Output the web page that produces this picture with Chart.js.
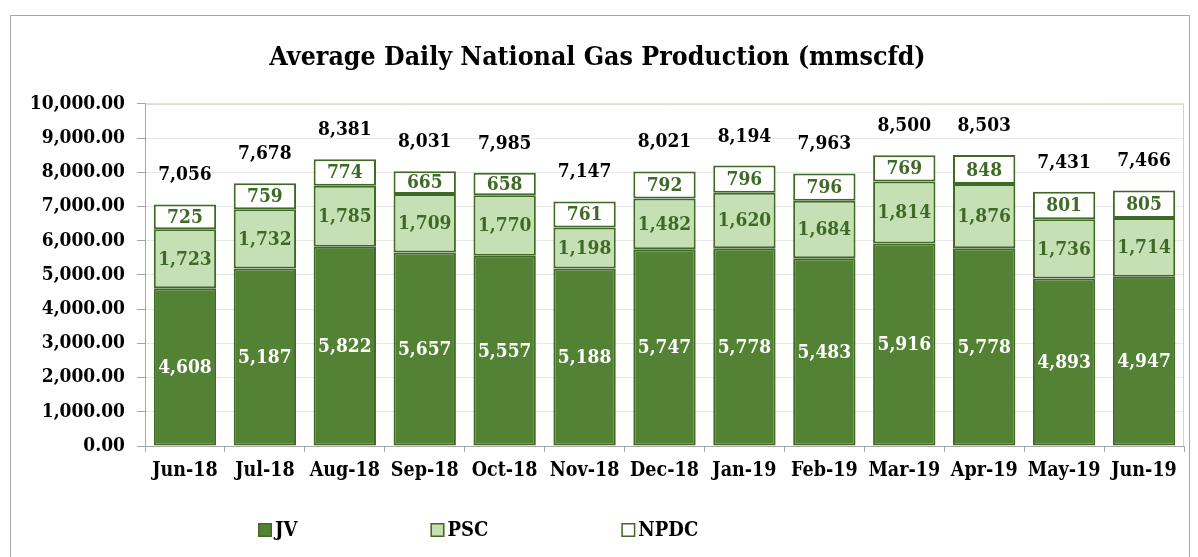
<!DOCTYPE html>
<html>
<head>
<meta charset="utf-8">
<script src="https://cdn.jsdelivr.net/npm/chart.js@4/dist/chart.umd.min.js"></script>
<style>
  body { margin: 0; background: #fff; }
  #frame {
    position: absolute; left: 10px; top: 15px;
    width: 1178px; height: 560px;
    border: 1px solid #a6a6a6;
  }
  canvas { display: block; }
</style>
</head>
<body>
<div id="frame"><canvas id="gas" width="1178" height="541"></canvas></div>
<script>
// ---- data ----
const months = ['Jun-18', 'Jul-18', 'Aug-18', 'Sep-18', 'Oct-18', 'Nov-18', 'Dec-18',
                'Jan-19', 'Feb-19', 'Mar-19', 'Apr-19', 'May-19', 'Jun-19'];
const jv   = [4608, 5187, 5822, 5657, 5557, 5188, 5747, 5778, 5483, 5916, 5778, 4893, 4947];
const psc  = [1723, 1732, 1785, 1709, 1770, 1198, 1482, 1620, 1684, 1814, 1876, 1736, 1714];
const npdc = [725, 759, 774, 665, 658, 761, 792, 796, 796, 769, 848, 801, 805];
const totals = [7056, 7678, 8381, 8031, 7985, 7147, 8021, 8194, 7963, 8500, 8503, 7431, 7466];

const FONT = '"DejaVu Serif Condensed", "DejaVu Serif", serif';
const EDGE = '#3e6a25';
const fmt = v => v.toLocaleString('en-US');

// values inside each segment + totals above the stack
const labelPlugin = {
  id: 'segLabels',
  afterDatasetsDraw(chart) {
    const ctx = chart.ctx;
    ctx.save();
    ctx.textAlign = 'center';
    ctx.textBaseline = 'middle';
    ctx.font = 'bold 19px ' + FONT;
    chart.data.datasets.forEach((ds, i) => {
      const meta = chart.getDatasetMeta(i);
      ctx.fillStyle = i === 0 ? '#ffffff' : EDGE;
      meta.data.forEach((bar, j) => {
        ctx.fillText(fmt(ds.data[j]), bar.x, (bar.y + bar.base) / 2 + 1);
      });
    });
    // totals
    const top = chart.getDatasetMeta(2);
    ctx.fillStyle = '#000';
    top.data.forEach((bar, j) => {
      ctx.fillText(fmt(totals[j]), bar.x, bar.y - 29);
    });
    ctx.restore();
  }
};

// light green plot-area border (top and right)
const plotBorder = {
  id: 'plotBorder',
  beforeDatasetsDraw(chart) {
    const { ctx, chartArea: a } = chart;
    ctx.save();
    ctx.strokeStyle = '#c5e0b4';
    ctx.lineWidth = 1;
    ctx.beginPath();
    ctx.moveTo(a.left, a.top + 0.5);
    ctx.lineTo(a.right - 0.5, a.top + 0.5);
    ctx.lineTo(a.right - 0.5, a.bottom);
    ctx.stroke();
    ctx.restore();
  }
};

// legend with wide gaps, like the Excel original
const legendPlugin = {
  id: 'wideLegend',
  afterDraw(chart) {
    const ctx = chart.ctx;
    ctx.save();
    ctx.font = 'bold 20px ' + FONT;
    ctx.textBaseline = 'middle';
    let x = 247;
    const y = 514;
    chart.data.datasets.forEach(ds => {
      ctx.fillStyle = ds.backgroundColor;
      ctx.fillRect(x, y - 7, 14, 14);
      ctx.strokeStyle = EDGE;
      ctx.lineWidth = 1.5;
      ctx.strokeRect(x + 0.75, y - 6.25, 12.5, 12.5);
      ctx.fillStyle = '#000';
      ctx.fillText(ds.label, x + 17, y + 1);
      x += 17 + ctx.measureText(ds.label).width + 133;
    });
    ctx.restore();
  }
};

new Chart(document.getElementById('gas'), {
  type: 'bar',
  data: {
    labels: months,
    datasets: [
      { label: 'JV', data: jv, backgroundColor: '#548235' },
      { label: 'PSC', data: psc, backgroundColor: '#c5e0b4' },
      { label: 'NPDC', data: npdc, backgroundColor: '#ffffff' }
    ]
  },
  options: {
    responsive: false,
    animation: false,
    layout: { padding: { left: 0, right: 5, top: 0, bottom: 51 } },
    datasets: {
      bar: {
        borderColor: EDGE,
        borderWidth: 2,
        borderSkipped: false,
        barPercentage: 0.78,
        categoryPercentage: 1
      }
    },
    scales: {
      x: {
        stacked: true,
        afterFit: s => { s.height = 60; },
        grid: { drawOnChartArea: false, tickLength: 6, color: '#a6a6a6' },
        border: { color: '#a6a6a6' },
        ticks: { color: '#000', padding: 7, font: { family: FONT, size: 19.5, weight: 'bold' } }
      },
      y: {
        stacked: true,
        min: 0,
        max: 10000,
        afterFit: s => { s.width = 134; },
        grid: { color: '#e8e8e8', tickColor: '#a6a6a6', tickLength: 8 },
        border: { color: '#a6a6a6' },
        ticks: {
          stepSize: 1000,
          color: '#000',
          padding: 12,
          font: { family: FONT, size: 19, weight: 'bold' },
          callback: v => v.toLocaleString('en-US', { minimumFractionDigits: 2, maximumFractionDigits: 2 })
        }
      }
    },
    plugins: {
      legend: { display: false },
      tooltip: { enabled: false },
      title: {
        display: true,
        text: 'Average Daily National Gas Production (mmscfd)',
        color: '#000',
        font: { family: FONT, size: 26.5, weight: 'bold', lineHeight: 1.2 },
        padding: { top: 26, bottom: 30 }
      }
    }
  },
  plugins: [plotBorder, labelPlugin, legendPlugin]
});
</script>
</body>
</html>
